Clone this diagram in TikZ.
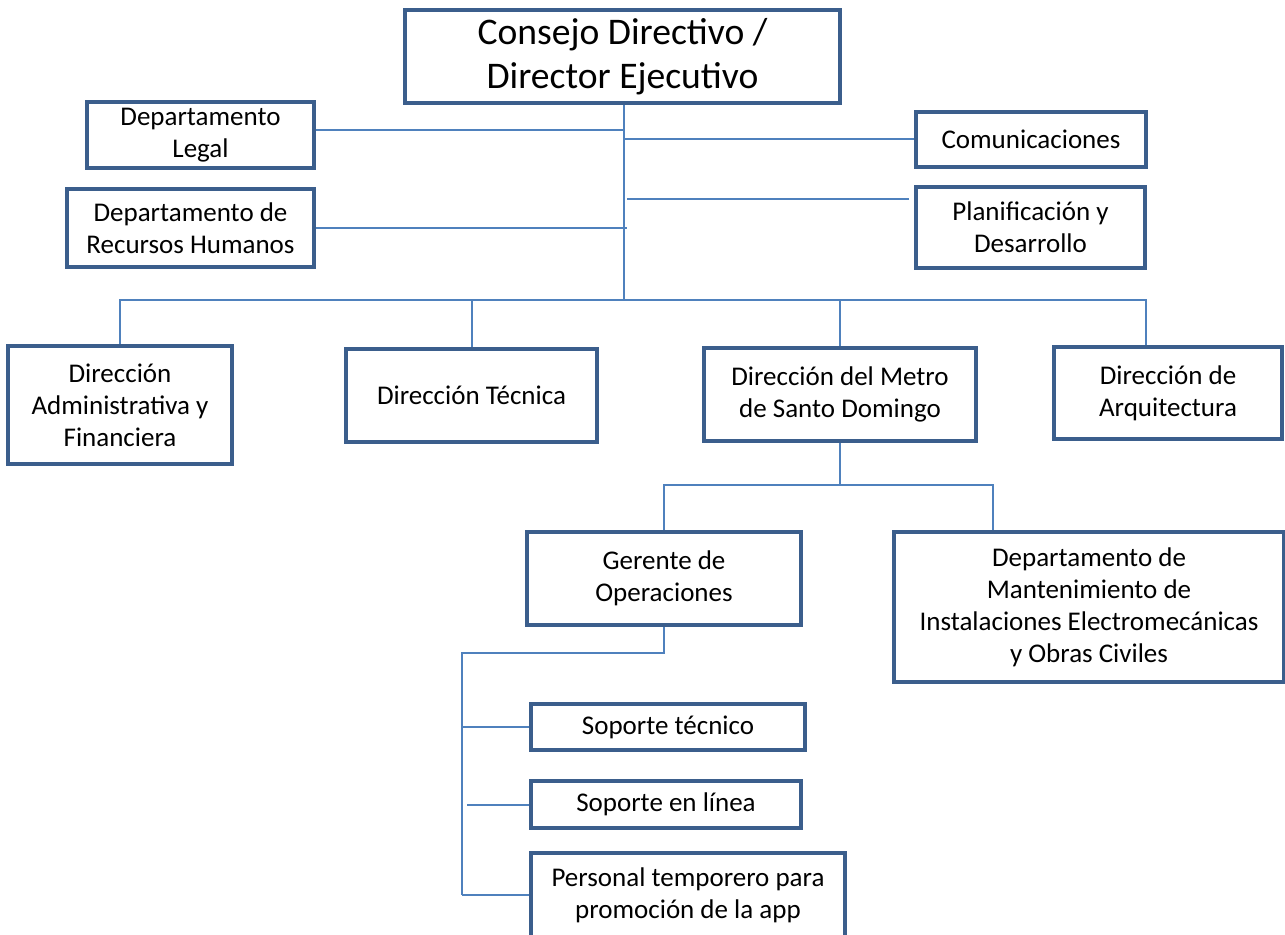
\documentclass[tikz,border=0pt]{standalone}
\usepackage{fontspec}
\setmainfont{Carlito}
\usepackage{tikz}
\definecolor{boxblue}{HTML}{3B5E8C}
\definecolor{lineblue}{HTML}{4F81BD}

\begin{document}
\begin{tikzpicture}[x=0.5pt,y=-0.5pt]
        \useasboundingbox (0,0) rectangle (1285,935);
        \begin{scope}[every node/.style={draw=boxblue,line width=2pt,align=center,inner sep=0pt,font=\fontsize{13.5}{16}\selectfont}]
            \node[minimum width=217.5pt,minimum height=46.5pt,font=\fontsize{18.8}{22}\selectfont] (consejo) at (622.5,56.5) {Consejo Directivo /\\Director Ejecutivo};

            \node[minimum width=113.5pt,minimum height=33pt] (legal) at (200.5,135) {Departamento\\Legal};
            \node[minimum width=123.5pt,minimum height=39pt] (rrhh) at (190.5,228) {Departamento de\\Recursos Humanos};
            \node[minimum width=115pt,minimum height=27.5pt] (comun) at (1031,139.5) {Comunicaciones};
            \node[minimum width=114.5pt,minimum height=40.5pt] (plan) at (1030.5,227.5) {Planificación y\\Desarrollo};

            \node[minimum width=112pt,minimum height=59pt] (admin) at (120,405) {Dirección\\Administrativa y\\Financiera};
            \node[minimum width=125.5pt,minimum height=46.5pt] (tecnica) at (471.5,395.5) {Dirección Técnica};
            \node[minimum width=136pt,minimum height=46.5pt] (metro) at (840,394.5) {Dirección del Metro\\de Santo Domingo};
            \node[minimum width=114pt,minimum height=46pt] (arq) at (1168,393) {Dirección de\\Arquitectura};

            \node[minimum width=137pt,minimum height=46.5pt] (gerente) at (664,578.5) {Gerente de\\Operaciones};
            \node[minimum width=195pt,minimum height=75pt] (mant) at (1089,607) {Departamento de\\Mantenimiento de\\Instalaciones Electromecánicas\\y Obras Civiles};

            \node[minimum width=137pt,minimum height=23pt] (stec) at (668,727) {Soporte técnico};
            \node[minimum width=135pt,minimum height=23.5pt] (slinea) at (666,804.5) {Soporte en línea};
            \node[minimum width=157pt,minimum height=42pt] (personal) at (688,895) {Personal temporero para\\promoción de la app};
        \end{scope}
        \begin{scope}[line width=1pt,draw=lineblue]
            \coordinate (hub) at (624,300);
            \coordinate (planin) at (909,199);
            \coordinate (busend) at (1146,300);
            \coordinate (mright) at (993,485);
            \coordinate (gleft) at (462,653);

            \draw [lineblue] (consejo.south -| hub) -- (hub);
            \draw [lineblue] ([yshift=2.5pt]legal.east) -- ([yshift=2.5pt]legal.east -| hub);
            \draw [lineblue] (rrhh.east) -- ([xshift=1.5pt]rrhh.east -| hub);
            \draw [lineblue] (comun.west) -- (comun.west -| hub);
            \draw [lineblue] (planin) -- ([xshift=1.5pt]planin -| hub);

            \draw [lineblue] (admin.north) |- (busend) -- (busend |- arq.north);
            \draw [lineblue] (tecnica.north) -- (tecnica.north |- hub);
            \draw [lineblue] (metro.north) -- (metro.north |- hub);

            \draw [lineblue] (metro.south) -- (metro.south |- mright);
            \draw [lineblue] (gerente.north) |- (mright) -- (mright |- mant.north);

            \draw [lineblue] (gerente.south) |- (gleft) -- (gleft |- personal.west);
            \draw [lineblue] (stec.west) -- (stec.west -| gleft);
            \draw [lineblue] (slinea.west) -- ([xshift=2.5pt]slinea.west -| gleft);
            \draw [lineblue] (personal.west) -- (personal.west -| gleft);
        \end{scope}
\end{tikzpicture}
\end{document}
